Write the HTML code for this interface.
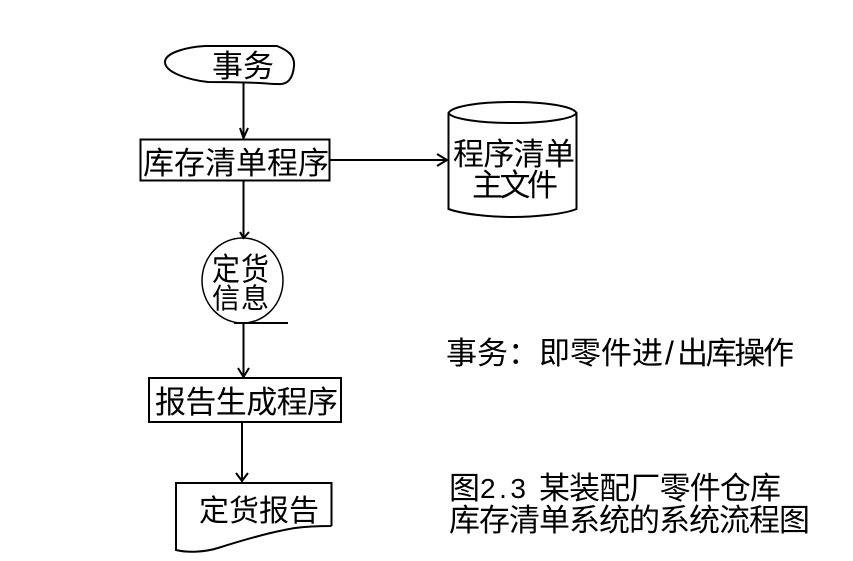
<!DOCTYPE html>
<html><head><meta charset="utf-8"><style>
html,body{margin:0;padding:0;background:#fff;width:853px;height:561px;overflow:hidden}
svg{display:block}
text{font-family:"Liberation Sans","WenQuanYi Zen Hei","Noto Sans CJK SC",sans-serif;fill:#000;font-size:31px}
</style></head><body>
<svg width="853" height="561" viewBox="0 0 853 561" xmlns="http://www.w3.org/2000/svg">
<g fill="none" stroke="#000" stroke-width="2">
<!-- terminator -->
<path d="M205 46 L277 46 C287 50 295 55 294 66 C293 78 288 85 278 84 C268 84 262 82 208 82 C190 80 165 73 165 62 C165 53 186 47 205 46 Z"/>
<!-- connectors -->
<path d="M243.500 83 V139"/><path d="M240 128 L243.500 138 L248 128"/>
<path d="M330 160 H447"/><path d="M437 154 L447 160 L437 166"/>
<path d="M243.500 181 V238"/><path d="M240 232 L243.500 238 L249 232"/>
<path d="M234 323 H288"/>
<path d="M243.500 323 V378"/><path d="M238 368 L243.500 377 L249 368"/>
<path d="M242 422 V482"/><path d="M236 473 L242 481 L248 473"/>
<!-- boxes -->
<rect x="140.500" y="139.500" width="189" height="41"/>
<rect x="149" y="378" width="192" height="44"/>
<!-- disk -->
<path d="M448.500 113 C452 106 480 102 512 102 C545 102 573 106 576.500 113 C573 119 545 123 512 123 C480 123 452 119 448.500 113 Z"/>
<path d="M448.500 113 V209 C462 214 490 217 512 217 C535 217 565 214 576.500 209 V113"/>
<!-- circle -->
<ellipse cx="242.500" cy="280.500" rx="40.500" ry="42.500" stroke-width="1.500"/>
<!-- document -->
<path d="M331.500 526 V483 H176 V550 C188 553 205 552 218 548 C240 541 270 532 295 528 C310 526 320 526 331.500 526"/>
</g>
<text x="212" y="77" textLength="62">事务</text>
<text x="143" y="174" textLength="186">库存清单程序</text>
<text x="453" y="165" textLength="122">程序清单</text>
<text x="472" y="196" textLength="86">主文件</text>
<text transform="translate(212,280) scale(1,1.12)" textLength="57" style="font-size:28px">定货</text>
<text transform="translate(212,308)" textLength="57" style="font-size:28px">信息</text>
<text x="155" y="413" textLength="183">报告生成程序</text>
<text x="199" y="521" textLength="120" style="font-size:30px">定货报告</text>
<text x="446" y="364" textLength="217">事务：即零件进</text>
<text x="665" y="364" style="font-size:32px">/</text>
<text x="677" y="364" textLength="117">出库操作</text>
<text x="449" y="499">图</text>
<text x="480" y="498" textLength="46" style="font-size:28px">2.3</text>
<text x="539" y="499" textLength="242">某装配厂零件仓库</text>
<text x="449" y="531" textLength="361">库存清单系统的系统流程图</text>
</svg>
</body></html>
